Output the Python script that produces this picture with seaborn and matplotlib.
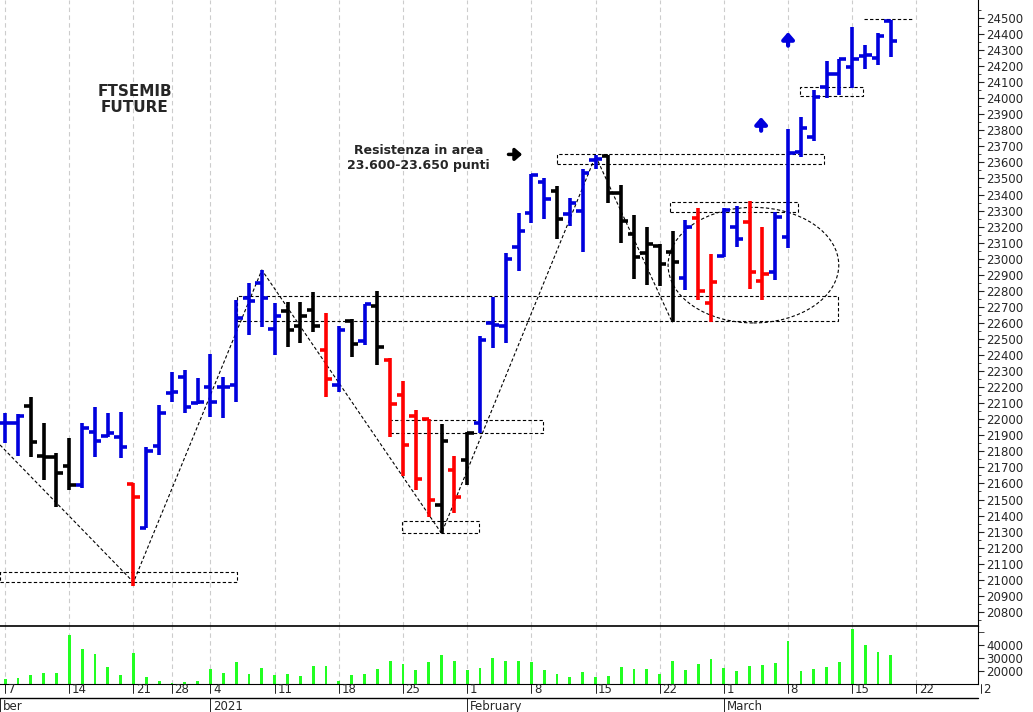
import numpy as np
import pandas as pd
import matplotlib
matplotlib.use("Agg")
import matplotlib.pyplot as plt
import matplotlib.transforms as mtrans
from matplotlib.patches import Rectangle, Ellipse
import seaborn as sns

opens = [21975,21975,22080,21770,21767,21709,21591,21923,21895,21892,
         21595,21321,21834,22162,22266,22104,22203,22203,22214,22755,
         22847,22560,22674,22581,22680,22431,22213,22612,22489,22705,
         22369,22151,22022,22001,21465,21683,21746,21974,22602,22580,
         23075,23287,23480,23424,23279,23298,23615,23640,23408,23154,
         23038,23080,23044,22878,23252,22726,23017,23200,23229,22863,
         22920,23138,23667,23761,24068,24151,24193,24263,24249,24480]
highs = [22037,22035,22141,21979,21792,21886,21979,22075,22037,22048,
         21600,21830,22089,22297,22307,22255,22405,22266,22743,22850,
         22930,22722,22732,22732,22790,22660,22583,22622,22718,22800,
         22379,22240,22057,22001,21970,21771,21922,22518,22764,23034,
         23287,23528,23501,23453,23377,23557,23647,23647,23460,23273,
         23196,23090,23175,23241,23314,23030,23314,23329,23362,23200,
         23293,23806,23885,24052,24234,24243,24442,24332,24409,24488]
lows = [21850,21770,21767,21622,21456,21560,21570,21767,21892,21757,
        20960,21321,21778,22110,22037,22095,22016,22006,22110,22525,
        22577,22400,22448,22473,22545,22140,22172,22385,22462,22338,
        21887,21646,21559,21393,21289,21418,21590,21916,22442,22477,
        22926,23221,23246,23121,23204,23044,23557,23350,23100,22872,
        22836,22830,22608,22805,22743,22608,23013,23071,22809,22743,
        22868,23065,23632,23736,24000,24020,24062,24180,24207,24259]
closes = [21975,22020,21860,21765,21668,21591,21944,21865,21915,21830,
          21515,21803,22037,22172,22079,22110,22110,22203,22629,22735,
          22753,22643,22556,22643,22581,22250,22556,22466,22718,22448,
          22095,21839,21625,21497,21864,21513,21916,22494,22587,23000,
          23175,23522,23370,23246,23350,23532,23620,23408,23237,23009,
          23092,22967,22978,23196,22801,22857,23304,23121,22920,22905,
          23262,23661,23813,24006,24151,24243,24243,24270,24388,24359]
bar_colors = (["b"]*2 + ["k"]*4 + ["b"]*4 + ["r"] + ["b"]*11 + ["k"]*3 + ["r", "b", "k", "b", "k"]
              + ["r"]*4 + ["k", "r", "k"] + ["b"]*6 + ["k"] + ["b"]*3 + ["k"]*6 + ["b"] + ["r"]*2
              + ["b"]*2 + ["r"]*2 + ["b"]*10)
volumes = [14200,14700,17400,18700,18700,47100,36600,33200,22900,17400,
           34000,15500,12900,10800,12100,12600,21300,18900,26800,18200,
           22100,17400,18200,16300,23900,24200,12900,16800,17600,21300,
           27400,25500,20800,26800,32100,27400,20800,22100,29700,27400,
           27400,26600,20800,17600,15800,19200,15500,16300,23400,21300,
           21300,18200,27400,20800,25300,29200,22600,20000,23700,24500,
           26100,43200,20000,21300,22900,26800,51800,40000,34200,32100]
tick_pos = [0, 5, 10, 13, 16, 21, 26, 31, 36, 41, 46, 51, 56, 61, 66, 71, 76]
tick_lbl = ["7", "14", "21", "28", "4", "11", "18", "25", "1", "8", "15", "22", "1", "8", "15", "22", "2"]
month_pos = [-0.4, 16, 36, 56]
month_lbl = ["ber", "2021", "February", "March"]

cmap = {"b": "#0000dd", "r": "#ff0000", "k": "#000000"}
n = len(opens)
idx = np.arange(n)

sns.set_style("white")
plt.rcParams['font.family'] = ['DejaVu Sans']
fig = plt.figure(figsize=(10.33, 7.12), dpi=100)
ax = fig.add_axes([0, 0.1208, 0.9468, 0.8792])
axv = fig.add_axes([0, 0.0393, 0.9468, 0.0815], sharex=ax)

xmin, xmax = -0.4, 75.8
for a in (ax, axv):
    for xp in tick_pos:
        a.axvline(xp, color="#cccccc", lw=0.8, ls=(0, (4, 3)), zorder=0)

# OHLC bars
for i in idx:
    c = cmap[bar_colors[i]]
    ax.vlines(i, lows[i], highs[i], color=c, lw=2.6, zorder=3)
    ax.hlines(opens[i], i - 0.5, i, color=c, lw=2.6, zorder=3)
    ax.hlines(closes[i], i, i + 0.5, color=c, lw=2.6, zorder=3)

# annotations (boxes in index/price coordinates)
boxes = [(-0.4, 18.1, 20985, 21050), (30.9, 36.9, 21291, 21366), (30.0, 41.9, 21914, 21995),
         (18.1, 64.9, 22612, 22768), (43.0, 63.8, 23590, 23653), (51.8, 61.8, 23291, 23354),
         (61.9, 66.8, 24014, 24070)]
for x0, x1, y0, y1 in boxes:
    ax.add_patch(Rectangle((x0, y0), x1 - x0, y1 - y0, fill=False, ls=(0, (3, 2)), lw=0.8, color="k", zorder=2))
ax.plot([66.9, 70.7], [24494, 24494], ls=(0, (3, 2)), lw=0.8, color="k")
ax.add_patch(Ellipse((58.3, 22960), 13.3, 720, fill=False, ls=(0, (3, 2)), lw=0.8, color="k"))
zz_x = [-0.4, 10, 20, 34, 46, 52]
zz_y = [21840, 20985, 22930, 21289, 23640, 22600]
ax.plot(zz_x, zz_y, ls=(0, (3, 2)), lw=0.8, color="k", zorder=2)

ax.text(10.1, 23990, "FTSEMIB\nFUTURE", ha="center", va="center", fontsize=11, fontweight="bold", linespacing=1.1)
ax.text(32.2, 23630, "Resistenza in area\n23.600-23.650 punti", ha="center", va="center", fontsize=9, fontweight="bold")
ax.annotate("", xy=(40.5, 23650), xytext=(39.0, 23650),
            arrowprops=dict(arrowstyle="-|>,head_width=0.35,head_length=0.4", color="k", lw=2.5))
for xa, ya in [(61.0, 24330), (58.9, 23800)]:
    ax.annotate("", xy=(xa, ya + 100), xytext=(xa, ya - 20),
                arrowprops=dict(arrowstyle="-|>,head_width=0.35,head_length=0.4", color="#0000dd", lw=3))

ax.set_xlim(xmin, xmax)
ax.set_ylim(20712, 24612)
ax.yaxis.tick_right()
ax.set_yticks(np.arange(20800, 24501, 100))
ax.set_yticks(np.arange(20750, 24600, 50), minor=True)
ax.tick_params(axis="y", which="major", length=4, labelsize=8.5, pad=2, right=True, direction="out")
ax.tick_params(axis="y", which="minor", length=2, right=True)
ax.tick_params(axis="x", bottom=False, labelbottom=False)
for s in ["left", "top"]:
    ax.spines[s].set_visible(False)
ax.spines["right"].set_color("k")
ax.spines["bottom"].set_color("k")

# volume
vdf = pd.DataFrame({"i": idx, "v": volumes})
sns.barplot(data=vdf, x="i", y="v", native_scale=True, color="#22ff22", width=0.22,
            saturation=1, ax=axv, edgecolor="none")
axv.set_xlim(xmin, xmax)
axv.set_ylim(10300, 54200)
axv.yaxis.tick_right()
axv.set_yticks([20000, 30000, 40000])
axv.set_yticklabels(["20000", "30000", "40000"])
axv.set_yticks([50000], minor=True)
axv.tick_params(axis="y", which="both", length=4, labelsize=8.5, pad=2, right=True)
axv.set_xlabel("")
axv.set_ylabel("")
axv.tick_params(axis="x", bottom=False, labelbottom=False)
axv.spines["left"].set_visible(False)
for s in ["bottom", "right", "top"]:
    axv.spines[s].set_color("k")
axv.spines["top"].set_linewidth(1.2)

# date labels
tr = mtrans.blended_transform_factory(axv.transData, fig.transFigure)
for xp, lb in zip(tick_pos, tick_lbl):
    fig.lines.append(plt.Line2D([xp, xp], [0.0393, 0.026], transform=tr, color="k", lw=0.6))
    fig.text(xp + 0.2, 0.032, lb, transform=tr, fontsize=8.5, va="center", ha="left")
fig.lines.append(plt.Line2D([0, 0.9468], [0.0195, 0.0195], transform=fig.transFigure, color="k", lw=1))
for xp, lb in zip(month_pos, month_lbl):
    fig.lines.append(plt.Line2D([xp, xp], [0.0195, 0.0], transform=tr, color="k", lw=0.6))
    fig.text(xp + 0.2, 0.008, lb, transform=tr, fontsize=8.5, va="center", ha="left")

fig.savefig("out.png", dpi=100)
